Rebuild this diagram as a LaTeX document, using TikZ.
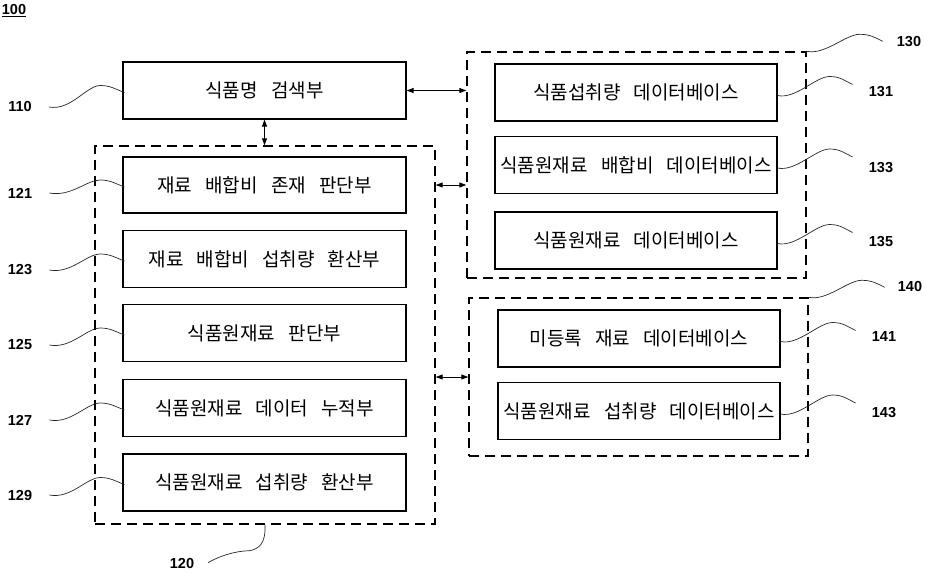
\documentclass[tikz,border=0pt]{standalone}
\usepackage{fontspec}
\setmainfont{Noto Sans CJK KR}[WordSpace=3.1]
\newfontfamily\numfont{Liberation Sans}
\usetikzlibrary{arrows.meta}
\newcommand\lsq[2]{\draw[sq] ([xshift=17pt]#1.east) .. controls +(22,4) and +(-14,0) .. ([xshift=-22pt,yshift=5pt]#2.west) .. controls +(10,0) and +(-8,-3) .. ([xshift=2pt,yshift=-2pt]#2.west);}
\newcommand\rsq[1]{\draw[sq] ([yshift=-3pt]#1.east) .. controls +(18,4) and +(-14,0) .. ([xshift=52pt,yshift=16pt]#1.east) .. controls +(10,0) and +(-8,-4) .. ([xshift=75pt,yshift=8pt]#1.east);}
\newcommand\csq[1]{\draw[sq] (#1.north east) .. controls +(18,4) and +(-14,0) .. ([xshift=53pt,yshift=17pt]#1.north east) .. controls +(10,0) and +(-8,-4) .. ([xshift=76pt,yshift=10pt]#1.north east);}
\begin{document}
\begin{tikzpicture}[x=1pt,y=-1pt,
  box/.style={draw=black, line width=1.2pt, minimum width=283pt, minimum height=57pt, inner sep=0pt, font=\fontsize{19}{22}\selectfont},
  dbox/.style={draw=black, line width=1.4pt, dash pattern=on 10pt off 6pt, inner sep=0pt},
  arr/.style={line width=1pt, {Triangle[length=7pt,width=5pt]}-{Triangle[length=7pt,width=5pt]}},
  sq/.style={line width=0.7pt, draw=black!85},
  lab/.style={font=\numfont\bfseries\fontsize{14.5}{16}\selectfont, inner sep=0pt}]
\useasboundingbox (0,0) rectangle (925,573);
% left group
\node[box] (b110) at (264.5,90.5) {식품명 검색부};
\node[dbox, minimum width=340pt, minimum height=378pt] (d120) at (265,335) {};
\node[box, minimum height=56pt] (b121) at (264.5,185) {재료 배합비 존재 판단부};
\node[box] (b123) at (264.5,259) {재료 배합비 섭취량 환산부};
\node[box] (b125) at (264.5,333) {식품원재료 판단부};
\node[box] (b127) at (264.5,408) {식품원재료 데이터 누적부};
\node[box] (b129) at (264.5,482.5) {식품원재료 섭취량 환산부};
% right groups
\node[dbox, minimum width=339pt, minimum height=226pt] (d130) at (636.5,165) {};
\node[box, minimum width=282pt] (b131) at (636,92.5) {식품섭취량 데이터베이스};
\node[box, minimum width=282pt] (b133) at (636,165) {식품원재료 배합비 데이터베이스};
\node[box, minimum width=282pt] (b135) at (636,240.5) {식품원재료 데이터베이스};
\node[dbox, minimum width=339pt, minimum height=158pt] (d140) at (638.5,377) {};
\node[box, minimum width=282pt] (b141) at (639,338.5) {미등록 재료 데이터베이스};
\node[box, minimum width=282pt] (b143) at (639,411) {식품원재료 섭취량 데이터베이스};
% arrows
\draw[arr] (b110.east) -- (b110.east -| d130.west);
\draw[arr] (b110.south) -- (b110.south |- d120.north);
\draw[arr] (d120.east |- b121.center) -- (d130.west |- b121.center);
\draw[arr] (d120.east |- d140.west) -- (d140.west);
% labels
\node[lab] (l100) at (14,11) {\underline{100}};
\node[lab] (l110) at (20,107) {110};
\node[lab] (l121) at (20,193) {121};
\node[lab] (l123) at (20,270) {123};
\node[lab] (l125) at (20,345) {125};
\node[lab] (l127) at (20,420) {127};
\node[lab] (l129) at (20,495) {129};
\node[lab] (l120) at (182,563) {120};
\node[lab] (l130) at (909,42) {130};
\node[lab] (l131) at (881,92) {131};
\node[lab] (l133) at (881,168) {133};
\node[lab] (l135) at (881,242) {135};
\node[lab] (l140) at (910,287) {140};
\node[lab] (l141) at (884,337) {141};
\node[lab] (l143) at (884,413) {143};
% squiggles
\lsq{l110}{b110}
\lsq{l121}{b121}
\lsq{l123}{b123}
\lsq{l125}{b125}
\lsq{l127}{b127}
\lsq{l129}{b129}
\rsq{b131}
\rsq{b133}
\rsq{b135}
\rsq{b141}
\rsq{b143}
\csq{d130}
\csq{d140}
\draw[sq] (d120.south) .. controls +(1,20) and +(8,-2) .. ([xshift=-15pt,yshift=-26pt]d120.south) .. controls +(-15,0) and +(10,-6) .. ([xshift=-57pt,yshift=-38pt]d120.south);
\end{tikzpicture}
\end{document}
